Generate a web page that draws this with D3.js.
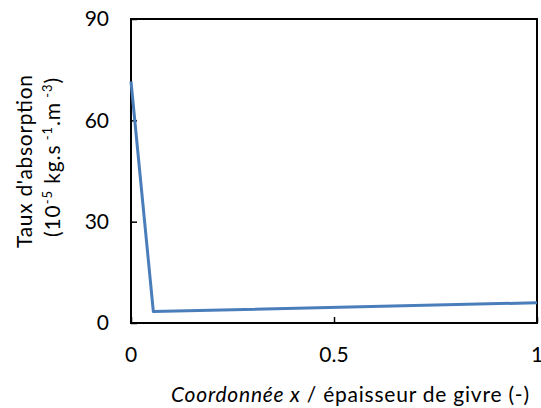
<!DOCTYPE html>
<html>
<head>
<meta charset="utf-8">
<script src="https://cdn.jsdelivr.net/npm/d3@7"></script>
<style>
  html, body { margin: 0; padding: 0; background: #fff; }
  svg { display: block; font-family: Lato, "Open Sans", sans-serif; }
</style>
</head>
<body>
<svg id="chart" width="541" height="408"></svg>
<script>
// Absorption rate profile across the frost layer thickness
const xPos = [0, 0.055, 1];
const rate = [71.5, 3.4, 6.0];
const xTicks = [0, 0.5, 1];
const yTicks = [0, 30, 60, 90];

const svg = d3.select("#chart");
const plot = { left: 131, right: 537, top: 19, bottom: 323 };

const x = d3.scaleLinear().domain([0, 1]).range([plot.left, plot.right]);
const y = d3.scaleLinear().domain([0, 90]).range([plot.bottom, plot.top]);

// frame
svg.append("rect")
  .attr("x", plot.left).attr("y", plot.top)
  .attr("width", plot.right - plot.left).attr("height", plot.bottom - plot.top)
  .attr("fill", "none").attr("stroke", "#000").attr("stroke-width", 2);

// y axis: inward ticks, labels to the left
const yAxis = svg.append("g").attr("transform", `translate(${plot.left},0)`)
  .call(d3.axisRight(y).tickValues(yTicks).tickSize(6).tickFormat(""));
yAxis.select(".domain").remove();
yAxis.selectAll(".tick line").attr("stroke", "#000").attr("stroke-width", 1.5);
svg.append("g").selectAll("text").data(yTicks).join("text")
  .attr("x", plot.left - 22).attr("y", d => y(d))
  .attr("dy", "0.35em").attr("text-anchor", "end")
  .attr("font-size", 21).attr("fill", "#000")
  .text(d => d);

// x axis: inward ticks, labels below
const xAxis = svg.append("g").attr("transform", `translate(0,${plot.bottom})`)
  .call(d3.axisTop(x).tickValues(xTicks).tickSize(6).tickFormat(""));
xAxis.select(".domain").remove();
xAxis.selectAll(".tick line").attr("stroke", "#000").attr("stroke-width", 1.5);
svg.append("g").selectAll("text").data(xTicks).join("text")
  .attr("x", d => x(d)).attr("y", 355)
  .attr("dy", "0.35em").attr("text-anchor", "middle")
  .attr("font-size", 21).attr("fill", "#000")
  .text(d => d);

// data line
const line = d3.line().x((d, i) => x(xPos[i])).y(d => y(d));
svg.append("path").datum(rate)
  .attr("d", line)
  .attr("fill", "none").attr("stroke", "#4A7EBB")
  .attr("stroke-width", 3).attr("stroke-linejoin", "round");

// x axis title
const xt = svg.append("text")
  .attr("x", 171).attr("y", 395).attr("dy", "0.35em")
  .attr("textLength", 358).attr("lengthAdjust", "spacing")
  .attr("font-size", 21).attr("fill", "#000");
xt.append("tspan").attr("font-style", "italic").text("Coordonnée x");
xt.append("tspan").text(" / épaisseur de givre  (-)");

// y axis title (two lines)
const yt = svg.append("g").attr("transform", "translate(25,248) rotate(-90)");
yt.append("text").attr("dy", "0.35em")
  .attr("textLength", 173).attr("lengthAdjust", "spacing")
  .attr("font-size", 21).attr("fill", "#000").text("Taux d'absorption");
const y2 = svg.append("g").attr("transform", "translate(53,237) rotate(-90)")
  .append("text").attr("dy", "0.35em")
  .attr("textLength", 159).attr("lengthAdjust", "spacing")
  .attr("font-size", 21).attr("fill", "#000");
y2.append("tspan").text("(10");
y2.append("tspan").attr("font-size", 13).attr("baseline-shift", "super").text("-5");
y2.append("tspan").text(" kg.s");
y2.append("tspan").attr("font-size", 13).attr("baseline-shift", "super").text(" -1");
y2.append("tspan").text(".m");
y2.append("tspan").attr("font-size", 13).attr("baseline-shift", "super").text(" -3");
y2.append("tspan").text(")");
</script>
</body>
</html>
